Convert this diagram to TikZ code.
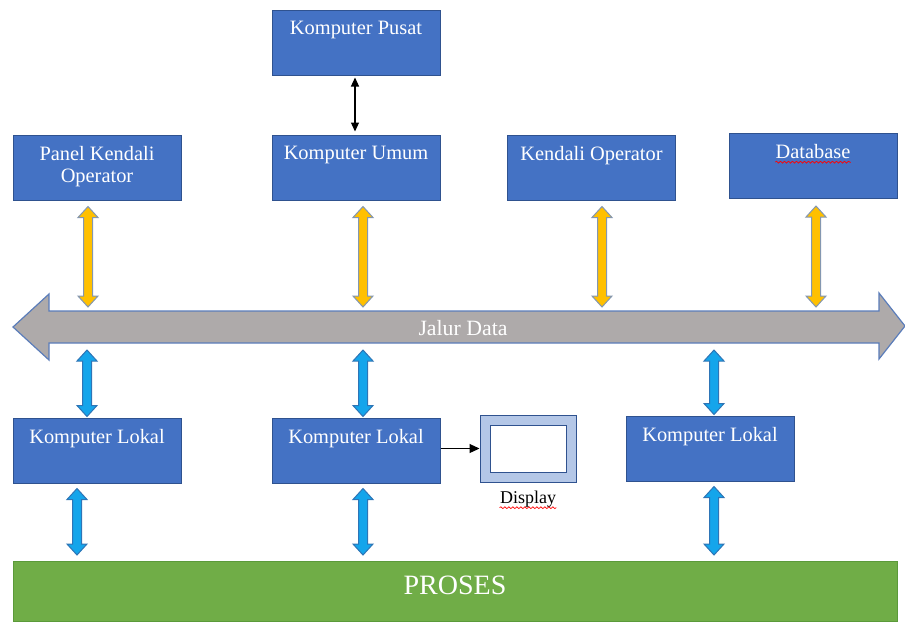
\documentclass[tikz,border=0pt]{standalone}
\usepackage{fontspec}
\setmainfont{Liberation Serif}
\usetikzlibrary{positioning,calc,arrows.meta,decorations.pathmorphing}

\definecolor{unitfill}{HTML}{4472C4}
\definecolor{unitline}{HTML}{2F528F}
\definecolor{ylwfill}{HTML}{FFC000}
\definecolor{ylwline}{HTML}{8497B0}
\definecolor{cyanfill}{HTML}{14A5EB}
\definecolor{cyanline}{HTML}{2E75B6}
\definecolor{busfill}{HTML}{AEAAAA}
\definecolor{busline}{HTML}{5B7DBA}
\definecolor{prosesfill}{HTML}{70AD47}
\definecolor{prosesline}{HTML}{5B9A3A}
\definecolor{dispfill}{HTML}{B4C7E7}

\begin{document}
\begin{tikzpicture}[x=0.5pt,y=-0.5pt,
    unit/.style={rectangle,draw=unitline,fill=unitfill,line width=0.5pt,
      minimum width=84pt,minimum height=32.5pt,inner sep=0pt},
    unittext/.style={anchor=north,inner sep=0pt,yshift=-5.5pt,text=white,
      font=\fontsize{10.2}{11}\selectfont,align=center},
    fat/.style={line width=0.5pt,to path={let \p1=(\tikztostart),\p2=(\tikztotarget) in
      (\x1,\y1) -- ({\x1+5pt},{\y1-5.5pt}) -- ({\x1+2.25pt},{\y1-5.5pt})
      -- ({\x1+2.25pt},{\y2+5.5pt}) -- ({\x1+5pt},{\y2+5.5pt}) -- (\x1,\y2)
      -- ({\x1-5pt},{\y2+5.5pt}) -- ({\x1-2.25pt},{\y2+5.5pt})
      -- ({\x1-2.25pt},{\y1-5.5pt}) -- ({\x1-5pt},{\y1-5.5pt}) -- cycle}},
    fatY/.style={fat,draw=ylwline,fill=ylwfill},
    fatB/.style={fat,draw=cyanline,fill=cyanfill},
    thin/.style={line width=0.6pt,{Triangle[length=4.5pt,width=4pt]}-{Triangle[length=4.5pt,width=4pt]}},
    squiggle/.style={red,line width=0.35pt,decorate,
      decoration={snake,amplitude=0.45pt,segment length=2pt}}]
  \useasboundingbox (0,0) rectangle (905,623);

  % upper units
  \node[unit] (pusat) at (356,42.5) {};
  \node[unittext] at (pusat.north) {Komputer Pusat};
  \node[unit] (panel) at (97,167.5) {};
  \node[unittext] at (panel.north) {Panel Kendali\\Operator};
  \node[unit] (umum) at (356,167.5) {};
  \node[unittext] at (umum.north) {Komputer Umum};
  \node[unit] (kendali) at (591.5,167.5) {};
  \node[unittext] at (kendali.north) {Kendali Operator};
  \node[unit] (database) at (813,166) {};
  \node[unittext] (dbtext) at (database.north) {Database};
  \draw[squiggle] ([yshift=-1.5pt]dbtext.south west) -- ([yshift=-1.5pt]dbtext.south east);

  % data bus
  \draw[busline,fill=busfill,line width=0.6pt] (13,327) -- (49,294) -- (49,311)
    -- (879,311) -- (879,293) -- (905,326) -- (879,359) -- (879,343)
    -- (49,343) -- (49,360) -- cycle;
  \node[text=white,font=\fontsize{10.9}{12}\selectfont] (jalur) at (463,328) {Jalur Data};

  % lower units
  \node[unit] (lokal1) at (97,450.5) {};
  \node[unittext] at (lokal1.north) {Komputer Lokal};
  \node[unit] (lokal2) at (356,450.5) {};
  \node[unittext] at (lokal2.north) {Komputer Lokal};
  \node[unit] (lokal3) at (710,448.5) {};
  \node[unittext] at (lokal3.north) {Komputer Lokal};

  \node[draw=unitline,fill=dispfill,line width=0.5pt,minimum width=48pt,
    minimum height=33.5pt,inner sep=0pt] (display) at (528,448.5) {};
  \node[draw=unitline,fill=white,line width=0.5pt,minimum width=38pt,
    minimum height=23.5pt,inner sep=0pt] at (display.center) {};
  \node[inner sep=0pt,font=\fontsize{9}{10}\selectfont,below=4pt of display] (disptext) {Display};
  \draw[squiggle] (disptext.south west) -- (disptext.south east);

  \node[draw=prosesline,fill=prosesfill,line width=0.5pt,minimum width=442pt,
    minimum height=30pt,inner sep=0pt] (proses) at (455,591) {};
  \node[text=white,font=\fontsize{14}{16}\selectfont] at ([yshift=3pt]proses.center) {PROSES};

  % attach points
  \coordinate (t1) at (88,307);
  \coordinate (t2) at (363,307);
  \coordinate (t3) at (602,307);
  \coordinate (t4) at (816,307);
  \coordinate (u1) at (87,350);
  \coordinate (u2) at (363,350);
  \coordinate (u3) at (714,350);
  \coordinate (v1) at (77,555);
  \coordinate (v2) at (363,555);
  \coordinate (v3) at (714,555);

  % connectors
  \draw[thin,shorten <=1pt,shorten >=1.5pt] ([xshift=-0.5pt]pusat.south) -- ([xshift=-0.5pt]umum.north);
  \draw[line width=0.6pt,-{Triangle[length=5pt,width=4.5pt]}] (lokal2.east |- display.west) -- (display.west);

  \draw[fatY] (panel.south -| t1) ++(0,6) to (t1);
  \draw[fatY] (umum.south -| t2) ++(0,6) to (t2);
  \draw[fatY] (kendali.south -| t3) ++(0,6) to (t3);
  \draw[fatY] (database.south -| t4) ++(0,7) to (t4);

  \draw[fatB] (u1) to ([yshift=0.5pt]lokal1.north -| u1);
  \draw[fatB] (u2) to ([yshift=0.5pt]lokal2.north -| u2);
  \draw[fatB] (u3) to ([yshift=0.5pt]lokal3.north -| u3);

  \draw[fatB] (lokal1.south -| v1) ++(0,5) to (v1);
  \draw[fatB] (lokal2.south -| v2) ++(0,5) to (v2);
  \draw[fatB] (lokal3.south -| v3) ++(0,5) to (v3);
\end{tikzpicture}
\end{document}
